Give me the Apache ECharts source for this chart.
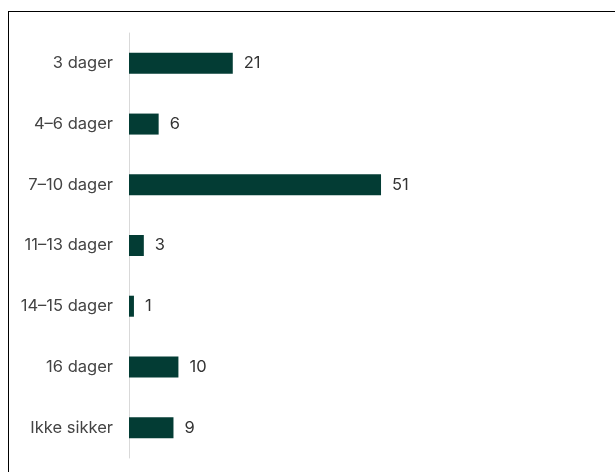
<!DOCTYPE html>
<html><head><meta charset="utf-8">
<script src="https://cdn.jsdelivr.net/npm/echarts@6/dist/echarts.min.js"></script>
<style>
html,body{margin:0;padding:0;background:#fff;}
#frame{position:absolute;left:8px;top:11px;width:700px;height:600px;border:1px solid #000;box-sizing:border-box;}
#c{position:absolute;left:0;top:0;width:615px;height:472px;}
</style></head><body>
<div id="frame"></div>
<div id="c"></div>
<script>
const categories = ["3 dager","4–6 dager","7–10 dager","11–13 dager","14–15 dager","16 dager","Ikke sikker"];
const values = [21,6,51,3,1,10,9];
const chart = echarts.init(document.getElementById('c'));
chart.setOption({
  animation:false,
  grid:{left:129,top:33,bottom:14,width:296.5},
  xAxis:{type:'value',min:0,max:60,show:false},
  yAxis:{type:'category',data:categories,inverse:true,
    axisLine:{show:true,lineStyle:{color:'#d9d9d9',width:1}},
    axisTick:{show:false},
    axisLabel:{color:'#444',fontFamily:'Inter',fontSize:16.5,margin:16}},
  series:[{type:'bar',data:values,barWidth:21,
    itemStyle:{color:'#033c34'},
    label:{show:true,position:'right',distance:11,color:'#333',fontFamily:'Inter',fontSize:16.5}}]
});
</script></body></html>
